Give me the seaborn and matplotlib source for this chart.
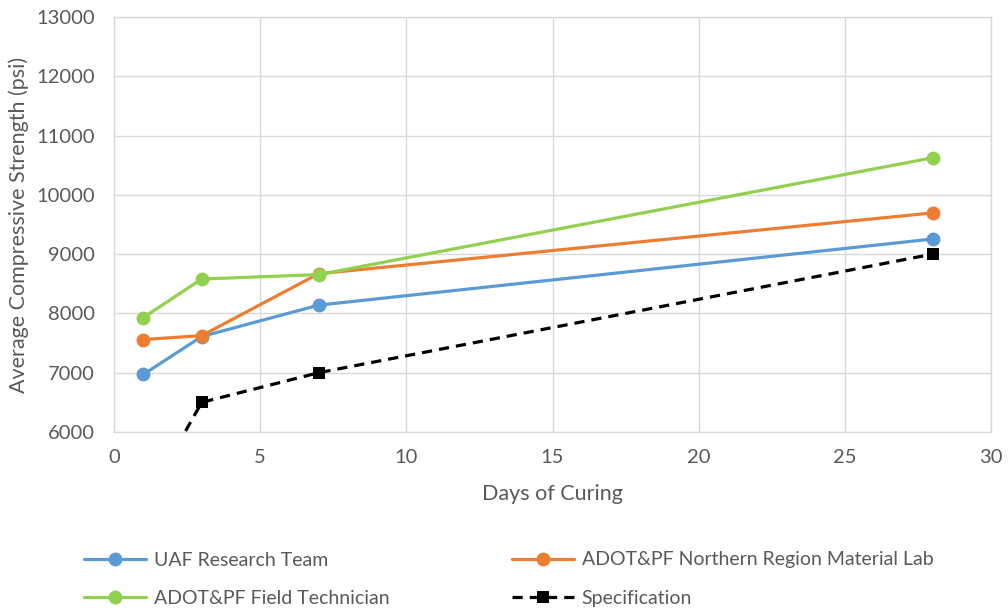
import matplotlib
matplotlib.use("Agg")
import matplotlib.pyplot as plt
import seaborn as sns
import pandas as pd

days = [1, 3, 7, 28]
uaf = [6970, 7610, 8140, 9255]
northern = [7560, 7625, 8670, 9695]
field = [7930, 8580, 8655, 10625]
spec = [4750, 6500, 7000, 9000]

series_names = ["UAF Research Team", "ADOT&PF Northern Region Material Lab",
                "ADOT&PF Field Technician", "Specification"]
series_values = [uaf, northern, field, spec]
colors = ["#5B9BD5", "#ED7D31", "#92D050", "#000000"]

x_ticks = [0, 5, 10, 15, 20, 25, 30]
y_ticks = [6000, 7000, 8000, 9000, 10000, 11000, 12000, 13000]

rows = []
for name, vals in zip(series_names, series_values):
    for d, v in zip(days, vals):
        rows.append({"Days": d, "Strength": v, "Series": name})
df = pd.DataFrame(rows)

sns.set_theme(style="white")
plt.rcParams["font.family"] = ["Lato", "DejaVu Sans"]

fig = plt.figure(figsize=(10.08, 6.12), dpi=100)
ax = fig.add_axes([114 / 1008, 1 - 432 / 612, (991 - 114) / 1008, (432 - 17) / 612])

for name, color in zip(series_names, colors):
    sub = df[df["Series"] == name]
    if name == "Specification":
        sns.lineplot(data=sub, x="Days", y="Strength", ax=ax, color=color,
                     linestyle=(0, (3.2, 2.2)), linewidth=2.3, marker="s",
                     markersize=8, markeredgewidth=0, label=name, zorder=3)
    else:
        sns.lineplot(data=sub, x="Days", y="Strength", ax=ax, color=color,
                     linewidth=2.3, marker="o", markersize=10,
                     markeredgewidth=0, label=name, zorder=3)

ax.set_xlim(0, 30)
ax.set_ylim(6000, 13000)
ax.set_xticks(x_ticks)
ax.set_yticks(y_ticks)
ax.grid(True, color="#D9D9D9", linewidth=1)
ax.set_axisbelow(True)
for sp in ax.spines.values():
    sp.set_color("#D9D9D9")
    sp.set_linewidth(1)
ax.tick_params(axis="both", length=0, labelsize=14.5, colors="#595959")
ax.tick_params(axis="x", pad=12)
ax.tick_params(axis="y", pad=14)
ax.set_xlabel("Days of Curing", fontsize=15.5, color="#595959", labelpad=13)
ax.set_ylabel("Average Compressive Strength (psi)", fontsize=15.5, color="#595959", labelpad=5)

handles, labels = ax.get_legend_handles_labels()
ax.get_legend().remove()
order = [0, 2, 1, 3]
leg = fig.legend([handles[i] for i in order], [labels[i] for i in order],
                 ncol=2, loc="upper left", bbox_to_anchor=(66 / 1008, 1 - 534 / 612),
                 frameon=False, fontsize=14, handlelength=3.2, handletextpad=0.4,
                 columnspacing=6.3, labelspacing=1.1, labelcolor="#595959")

fig.savefig("out.png", dpi=100, facecolor="white")
